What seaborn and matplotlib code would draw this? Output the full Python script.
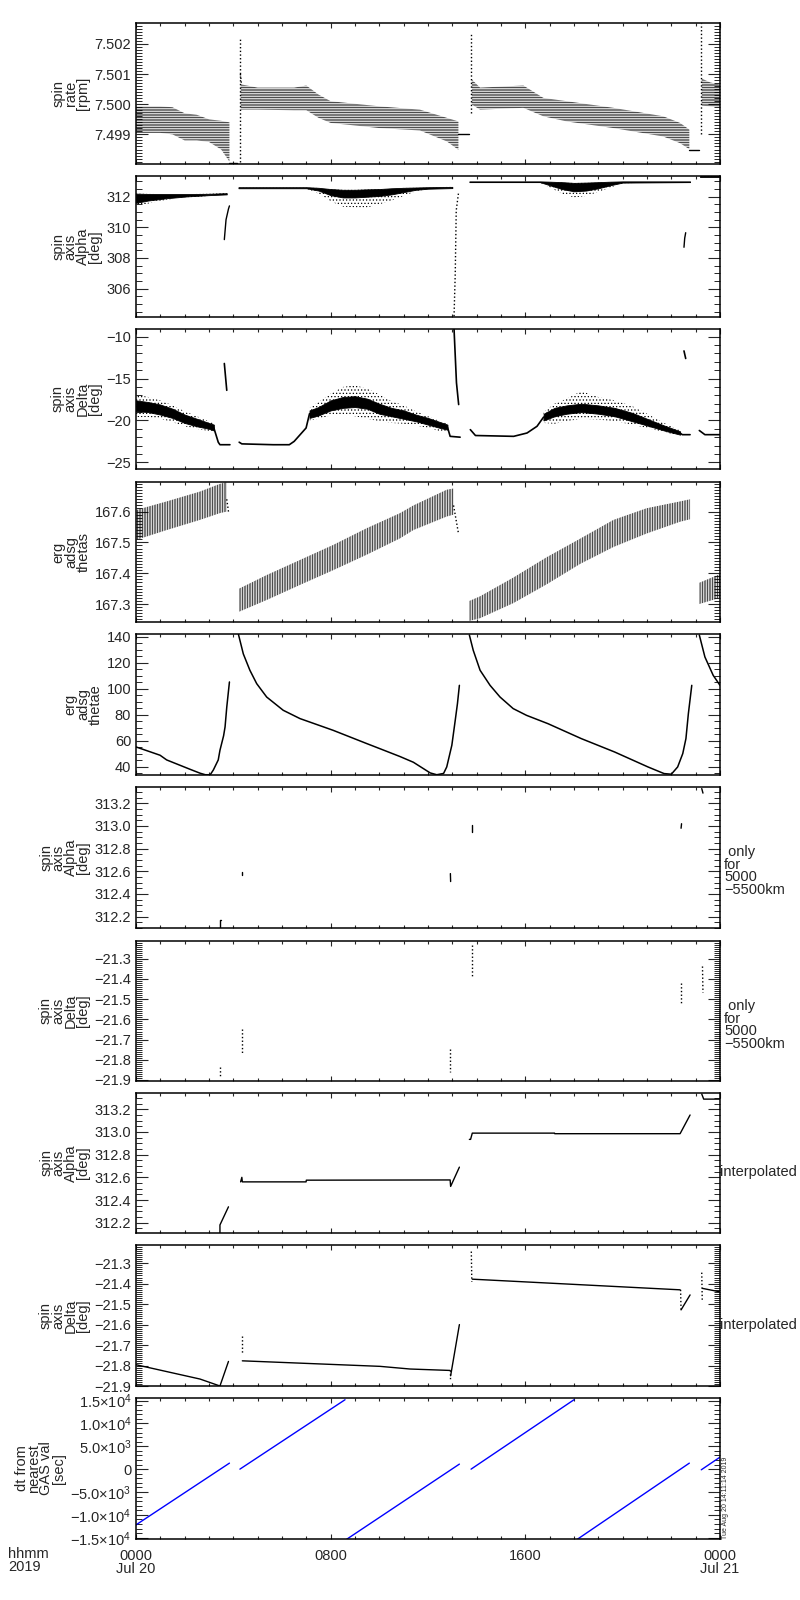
import numpy as np
import pandas as pd
import matplotlib
matplotlib.use('Agg')
import matplotlib.pyplot as plt
import seaborn as sns
from matplotlib.ticker import MultipleLocator, FuncFormatter, FixedLocator

##############################################################
# Data  (x = hours after 2019-07-20 00:00 UT)
##############################################################

# spin rate [rpm] : quantised point bands (lower / upper edge per segment)
rate_band_h = [[0, 1.0, 1.5, 2.0, 2.5, 3.0, 3.5, 3.84],
               [4.3, 5.0, 6.5, 7.0, 7.5, 8.0, 10.0, 11.67, 12.77, 13.25],
               [13.8, 14.14, 15.92, 16.74, 17.7, 19.62, 21.67, 22.36, 22.74],
               [23.25, 23.6, 24.0]]
rate_band_hi = [[7.49993, 7.49993, 7.4999, 7.4997, 7.49965, 7.4995, 7.49945, 7.4994],
                [7.50066, 7.50055, 7.50055, 7.50062, 7.50032, 7.5001, 7.49993, 7.49982, 7.49955, 7.49943],
                [7.50082, 7.50055, 7.50062, 7.50021, 7.5001, 7.49988, 7.4996, 7.49938, 7.49916],
                [7.50085, 7.50072, 7.50065]]
rate_band_lo = [[7.49905, 7.49905, 7.4990, 7.4988, 7.4988, 7.49875, 7.4985, 7.4981],
                [7.49982, 7.49982, 7.4998, 7.4998, 7.49955, 7.49938, 7.49921, 7.49913, 7.49877, 7.49849],
                [7.49999, 7.49982, 7.49988, 7.4996, 7.49943, 7.49921, 7.49893, 7.49871, 7.49851],
                [7.49995, 7.49993, 7.4999]]
rate_lines = [[(3.84, 7.49805), (4.15, 7.49805)],
              [(13.25, 7.49902), (13.7, 7.49902)],
              [(22.74, 7.4985), (23.15, 7.4985)]]
rate_spikes = [[(4.27, 7.4981), (4.27, 7.50222)], [(4.29, 7.5010), (4.33, 7.5007)],
               [(13.76, 7.49971), (13.76, 7.50232)], [(23.2, 7.4990), (23.2, 7.5027)]]

# spin axis alpha [deg]
alpha_band_h = [[0, 0.5, 1.26, 2.1, 3.0, 3.73],
                [4.21, 7.0, 7.5, 8.0, 8.5, 9.0, 9.5, 10.0, 10.5, 11.0, 11.5, 12.0, 13.0],
                [13.7, 16.6, 17.0, 17.5, 18.0, 18.5, 19.0, 19.5, 20.0, 22.77],
                [23.18, 24.0]]
alpha_band_hi = [[312.2, 312.18, 312.17, 312.17, 312.19, 312.23],
                 [312.62, 312.62, 312.58, 312.5, 312.45, 312.45, 312.48, 312.5, 312.55, 312.58, 312.6, 312.62, 312.64],
                 [313.0, 313.0, 312.98, 312.95, 312.9, 312.92, 312.95, 312.98, 313.0, 313.0],
                 [313.33, 313.33]]
alpha_band_lo = [[311.6, 311.75, 311.9, 312.02, 312.1, 312.15],
                 [312.55, 312.55, 312.4, 312.1, 311.95, 311.95, 312.0, 312.05, 312.15, 312.3, 312.45, 312.52, 312.56],
                 [312.95, 312.95, 312.75, 312.5, 312.35, 312.4, 312.55, 312.75, 312.92, 312.95],
                 [313.27, 313.27]]
alpha_scatter_lo = [[311.4, 311.55, 311.8, 311.95, 312.05, 312.1],
                    [312.55, 312.52, 312.2, 311.7, 311.35, 311.3, 311.3, 311.5, 311.75, 312.05, 312.35, 312.5, 312.55],
                    [312.95, 312.92, 312.6, 312.2, 311.95, 312.05, 312.3, 312.6, 312.88, 312.95],
                    [313.27, 313.27]]
alpha_lines = [[(3.63, 309.2), (3.7, 310.5), (3.8, 311.2), (3.84, 311.4)],
               [(22.52, 308.7), (22.55, 309.3), (22.59, 309.65)]]
alpha_dotted = [[(13.07, 304.2), (13.12, 307.0), (13.16, 311.1), (13.25, 312.2)]]

# spin axis delta [deg]
delta_band_h = [[0, 0.5, 1.0, 1.5, 2.0, 2.5, 3.0, 3.2],
                [7.13, 7.5, 8.0, 8.5, 9.0, 9.5, 10.0, 10.5, 11.0, 11.5, 12.0, 12.5, 12.8],
                [16.75, 17.2, 17.7, 18.3, 19.0, 19.67, 20.4, 21.0, 21.7, 22.36]]
delta_band_hi = [[-17.6, -17.8, -18.1, -18.6, -19.3, -19.8, -20.3, -20.5],
                 [-18.8, -18.4, -17.6, -17.2, -17.1, -17.4, -18.0, -18.5, -18.8, -19.3, -19.7, -20.2, -20.5],
                 [-19.2, -18.5, -18.2, -18.0, -18.2, -18.5, -19.1, -19.8, -20.6, -21.3]]
delta_band_lo = [[-18.9, -19.0, -19.3, -19.7, -20.3, -20.7, -21.0, -21.2],
                 [-19.7, -19.4, -18.8, -18.5, -18.4, -18.6, -19.2, -19.5, -19.8, -20.1, -20.5, -20.9, -21.1],
                 [-20.0, -19.5, -19.2, -19.0, -19.2, -19.5, -20.1, -20.6, -21.2, -21.7]]
delta_scatter_hi = [[-16.9, -17.2, -17.6, -18.2, -18.9, -19.5, -20.1, -20.3],
                    [-18.5, -17.8, -16.8, -16.0, -15.8, -16.2, -16.9, -17.7, -18.2, -18.9, -19.5, -20.1, -20.4],
                    [-19.0, -18.0, -17.4, -16.5, -17.2, -17.6, -18.3, -19.2, -20.3, -21.2]]
delta_scatter_lo = [[-19.6, -19.6, -19.8, -20.2, -20.7, -21.0, -21.3, -21.4],
                    [-20.0, -19.8, -19.4, -19.3, -19.5, -19.8, -20.1, -20.3, -20.4, -20.6, -20.9, -21.3, -21.4],
                    [-20.3, -20.4, -20.1, -19.8, -19.9, -20.1, -20.5, -20.9, -21.4, -21.8]]
delta_lines = [[(3.2, -20.9), (3.38, -22.6), (3.45, -22.9), (3.86, -22.9)],
               [(3.63, -13.2), (3.73, -16.4)],
               [(4.24, -22.6), (4.35, -22.8), (5.64, -22.9), (6.3, -22.9), (6.5, -22.5), (6.99, -20.9), (7.13, -19.2)],
               [(12.8, -20.8), (12.91, -21.9), (13.32, -22.0)],
               [(13.07, -9.1), (13.17, -15.5), (13.26, -18.1)],
               [(13.74, -21.1), (13.95, -21.8), (15.52, -21.9), (16.07, -21.5), (16.48, -20.7), (16.75, -19.6)],
               [(22.36, -21.5), (22.45, -21.7), (22.77, -21.7)],
               [(22.52, -11.7), (22.59, -12.6)],
               [(23.15, -21.2), (23.38, -21.7), (24.0, -21.7)]]

# erg adsg thetas
thetas_h = [[0, 1.26, 2.63, 3.45, 3.73],
            [4.24, 5.37, 6.74, 8.11, 9.48, 10.85, 11.4, 12.77, 13.05],
            [13.7, 14.14, 15.51, 16.88, 18.25, 19.62, 20.99, 22.36, 22.77],
            [23.15, 24.0]]
thetas_hi = [[167.605, 167.633, 167.665, 167.69, 167.696],
             [167.35, 167.394, 167.443, 167.492, 167.546, 167.595, 167.62, 167.671, 167.675],
             [167.31, 167.325, 167.386, 167.452, 167.512, 167.573, 167.611, 167.633, 167.64],
             [167.369, 167.397]]
thetas_lo = [[167.508, 167.54, 167.573, 167.595, 167.6],
             [167.275, 167.313, 167.362, 167.41, 167.46, 167.513, 167.54, 167.584, 167.59],
             [167.245, 167.254, 167.303, 167.364, 167.43, 167.485, 167.529, 167.567, 167.575],
             [167.3, 167.32]]
thetas_tails = [[(3.73, 167.64), (3.8, 167.6)], [(13.05, 167.62), (13.25, 167.53)]]

# erg adsg thetae
thetae_lines = [
    [(0, 55.4), (0.99, 49), (1.26, 45.4), (2.22, 38.2), (2.63, 35.2), (2.85, 34.0), (3.05, 34.0),
     (3.18, 37.7), (3.38, 45.4), (3.45, 52.8), (3.6, 64), (3.66, 70.8), (3.73, 86), (3.84, 105.4)],
    [(4.21, 142), (4.41, 127), (4.68, 114.4), (4.96, 104.1), (5.37, 93.8), (6.05, 83.6), (6.74, 77.2),
     (8.1, 68.2), (9.48, 58), (10.03, 54), (10.85, 48), (11.4, 43.6), (12.09, 35.4), (12.36, 34),
     (12.64, 35), (12.77, 40), (12.98, 56.7), (13.12, 76), (13.21, 88.7), (13.29, 102.8)],
    [(13.7, 141.5), (13.86, 129.7), (14.14, 114.4), (14.55, 102.8), (14.96, 93.8), (15.5, 84.9),
     (16.05, 79.7), (16.93, 73.3), (18.3, 61.8), (19.67, 51.5), (21.04, 40), (21.7, 34.9), (22.0, 34.4),
     (22.26, 40), (22.47, 50.3), (22.6, 61.8), (22.7, 81), (22.84, 102.8)],
    [(23.15, 141.5), (23.38, 124.6), (23.72, 110.5), (24.0, 102.8)]]

# spin axis alpha / delta, only for 5000-5500 km
alpha_sel = [[(3.45, 312.1), (3.45, 312.17), (3.5, 312.17)], [(4.37, 312.567), (4.37, 312.596)],
             [(12.93, 312.51), (12.92, 312.58)], [(13.82, 312.95), (13.82, 313.01)],
             [(22.4, 312.98), (22.42, 313.02)], [(23.25, 313.33), (23.3, 313.29)]]
delta_sel = [[(3.45, -21.836), (3.45, -21.885)], [(4.37, -21.648), (4.37, -21.77)],
             [(12.91, -21.746), (12.91, -21.86)], [(13.82, -21.23), (13.82, -21.39)],
             [(22.4, -21.42), (22.4, -21.525)], [(23.28, -21.338), (23.3, -21.468)]]

# spin axis alpha / delta, interpolated
alpha_int = [[(3.45, 312.11), (3.45, 312.18), (3.8, 312.34)],
             [(4.3, 312.56), (4.35, 312.6), (4.37, 312.56), (6.99, 312.56), (7.0, 312.575),
              (12.91, 312.577), (12.93, 312.52), (13.29, 312.69)],
             [(13.7, 312.935), (13.75, 312.935), (13.82, 312.99), (17.2, 312.99), (17.21, 312.985),
              (22.36, 312.985), (22.77, 313.15)],
             [(23.25, 313.335), (23.33, 313.29), (24.0, 313.29)]]
delta_int = [[(0, -21.796), (2.63, -21.866), (3.45, -21.9)],
             [(3.45, -21.9), (3.8, -21.78)],
             [(4.37, -21.777), (10.03, -21.804), (11.26, -21.817), (12.91, -21.824)],
             [(12.93, -21.85), (13.29, -21.6)],
             [(13.82, -21.378), (22.36, -21.43)],
             [(22.4, -21.528), (22.77, -21.455)],
             [(23.28, -21.423), (24.0, -21.44)]]
delta_int_dotted = [[(4.35, -21.658), (4.35, -21.74)], [(12.91, -21.824), (12.91, -21.87)],
                    [(13.78, -21.243), (13.8, -21.39)], [(22.38, -21.43), (22.4, -21.53)],
                    [(23.25, -21.346), (23.27, -21.48)]]

# dt from nearest GAS val [sec]
dt_lines = [[(0, -12190), (3.84, 1314)], [(4.27, 0), (8.59, 15180)], [(8.66, -15330), (13.29, 1100)],
            [(13.77, 0), (18.0, 15180)], [(18.14, -15330), (22.74, 1314)], [(23.23, -146), (24.0, 2628)]]
dt_ticks = [-15000, -10000, -5000, 0, 5000, 10000, 15000]
dt_ticklabels = ['\u22121.5\u00d710$^4$', '\u22121.0\u00d710$^4$', '\u22125.0\u00d710$^3$', '0',
                 '5.0\u00d710$^3$', '1.0\u00d710$^4$', '1.5\u00d710$^4$']

ylabels = ['spin\nrate\n[rpm]', 'spin\naxis\nAlpha\n[deg]', 'spin\naxis\nDelta\n[deg]',
           'erg\nadsg\nthetas', 'erg\nadsg\nthetae', 'spin\naxis\nAlpha\n[deg]',
           'spin\naxis\nDelta\n[deg]', 'spin\naxis\nAlpha\n[deg]', 'spin\naxis\nDelta\n[deg]',
           'dt from\nnearest\nGAS val\n[sec]']
x_ticklabels = ['0000\nJul 20', '0800', '1600', '0000\nJul 21']

##############################################################
# Style
##############################################################
sns.set_style('ticks')
plt.rcParams['font.family'] = ['Liberation Sans', 'DejaVu Sans']
plt.rcParams['mathtext.fontset'] = 'custom'
plt.rcParams['mathtext.rm'] = 'Liberation Sans'
plt.rcParams['mathtext.it'] = 'Liberation Sans'
plt.rcParams['hatch.linewidth'] = 0.5
FS = 10.5

# panel top / bottom in pixels
panel_px = [(23, 164), (176, 317), (329, 469), (482, 622), (634, 775),
            (787, 928), (941, 1081), (1093, 1233), (1245, 1386), (1398, 1539)]

fig = plt.figure(figsize=(8, 16), dpi=100)
axes = [fig.add_axes([136 / 800, 1 - b / 1600, 584 / 800, (b - t) / 1600]) for t, b in panel_px]


def draw_lines(ax, segs, color='k', ls='-', lw=1.0):
    rows = [(i, h, v) for i, seg in enumerate(segs) for h, v in seg]
    df = pd.DataFrame(rows, columns=['seg', 'h', 'v'])
    sns.lineplot(data=df, x='h', y='v', units='seg', estimator=None, sort=False,
                 color=color, linestyle=ls, linewidth=lw, ax=ax, legend=False)


def draw_band(ax, h, lo, hi, hatch=None):
    if hatch is None:
        ax.fill_between(h, lo, hi, facecolor='k', edgecolor='k', lw=0.6)
    else:
        ax.fill_between(h, lo, hi, facecolor='none', edgecolor='k', hatch=hatch, lw=0)


def style(ax, ylim, major, minor, fmt, label):
    ax.set_xlim(0, 24)
    ax.set_ylim(*ylim)
    ax.xaxis.set_major_locator(FixedLocator([0, 8, 16, 24]))
    ax.xaxis.set_minor_locator(MultipleLocator(1))
    ax.yaxis.set_major_locator(MultipleLocator(major))
    ax.yaxis.set_minor_locator(MultipleLocator(minor))
    if fmt is not None:
        ax.yaxis.set_major_formatter(FuncFormatter(lambda v, p: (fmt % v).replace('-', '\u2212')))
    ax.tick_params(axis='x', which='major', length=3.5, width=0.8, top=True, bottom=True,
                   direction='in', labelbottom=False)
    ax.tick_params(axis='x', which='minor', length=2, width=0.8, top=True, bottom=True, direction='in')
    ax.tick_params(axis='y', which='major', length=8.5, width=0.8, left=True, right=True,
                   direction='in', labelsize=FS, pad=3.5)
    ax.tick_params(axis='y', which='minor', length=4.3, width=0.7, left=True, right=True, direction='in')
    ax.set_xlabel('')
    ax.set_ylabel(label, fontsize=FS, linespacing=0.85, labelpad=3)
    for s in ax.spines.values():
        s.set_linewidth(1.1)
        s.set_color('k')
        s.set_visible(True)


##############################################################
# Panels
##############################################################
ax = axes[0]
for h, lo, hi in zip(rate_band_h, rate_band_lo, rate_band_hi):
    draw_band(ax, h, lo, hi, hatch='-' * 10)
draw_lines(ax, rate_lines, lw=1.0)
draw_lines(ax, rate_spikes, ls=':', lw=1.0)
style(ax, (7.49802, 7.50269), 0.001, 0.0001, '%.3f', ylabels[0])

ax = axes[1]
for h, lo, hi, slo in zip(alpha_band_h, alpha_band_lo, alpha_band_hi, alpha_scatter_lo):
    draw_band(ax, h, slo, hi, hatch='.....')
    draw_band(ax, h, lo, hi)
draw_lines(ax, alpha_lines, lw=1.0)
draw_lines(ax, alpha_dotted, ls=':', lw=1.0)
style(ax, (304.15, 313.35), 2, 0.5, '%.0f', ylabels[1])

ax = axes[2]
for h, lo, hi, slo, shi in zip(delta_band_h, delta_band_lo, delta_band_hi, delta_scatter_lo, delta_scatter_hi):
    draw_band(ax, h, slo, shi, hatch='.....')
    draw_band(ax, h, lo, hi)
draw_lines(ax, delta_lines, lw=1.2)
style(ax, (-25.8, -9.08), 5, 1, '%.0f', ylabels[2])

ax = axes[3]
for h, lo, hi in zip(thetas_h, thetas_lo, thetas_hi):
    draw_band(ax, h, lo, hi, hatch='|' * 10)
draw_lines(ax, thetas_tails, ls=':', lw=1.0)
style(ax, (167.2416, 167.696), 0.1, 0.01, '%.1f', ylabels[3])

ax = axes[4]
draw_lines(ax, thetae_lines, lw=1.1)
style(ax, (33.8, 142.3), 20, 5, '%.0f', ylabels[4])

ax = axes[5]
draw_lines(ax, alpha_sel, lw=1.0)
style(ax, (312.1, 313.344), 0.2, 0.05, '%.1f', ylabels[5])

ax = axes[6]
draw_lines(ax, delta_sel, ls=':', lw=1.0)
style(ax, (-21.905, -21.212), 0.1, 0.01, '%.1f', ylabels[6])

ax = axes[7]
draw_lines(ax, alpha_int, lw=1.0)
style(ax, (312.109, 313.344), 0.2, 0.05, '%.1f', ylabels[7])

ax = axes[8]
draw_lines(ax, delta_int, lw=1.0)
draw_lines(ax, delta_int_dotted, ls=':', lw=1.0)
style(ax, (-21.9, -21.211), 0.1, 0.01, '%.1f', ylabels[8])

ax = axes[9]
draw_lines(ax, dt_lines, color='#0000ff', lw=1.0)
style(ax, (-15280, 15560), 5000, 1000, None, ylabels[9])
ax.yaxis.set_major_locator(FixedLocator(dt_ticks))
ax.set_yticklabels(dt_ticklabels)
ax.set_xticks([0, 8, 16, 24])
ax.set_xticklabels(x_ticklabels, fontsize=FS, linespacing=0.9)
ax.tick_params(axis='x', which='major', labelbottom=True, pad=7)

# annotations
for ypx in (871, 1025):
    fig.text(724 / 800, 1 - ypx / 1600, ' only\nfor\n5000\n\u22125500km', fontsize=FS,
             ha='left', va='center', linespacing=0.85)
for ypx in (1172, 1325):
    fig.text(720 / 800, 1 - ypx / 1600, 'interpolated', fontsize=FS, ha='left', va='center')
fig.text(8 / 800, 1 - 1547 / 1600, 'hhmm\n2019', fontsize=FS, ha='left', va='top', linespacing=0.9)
fig.text(722 / 800, 1 - 1539 / 1600, 'Tue Aug 20 14:11:14 2019', fontsize=5, rotation=90,
         ha='left', va='bottom')

fig.savefig('out.png', dpi=100, facecolor='white')
